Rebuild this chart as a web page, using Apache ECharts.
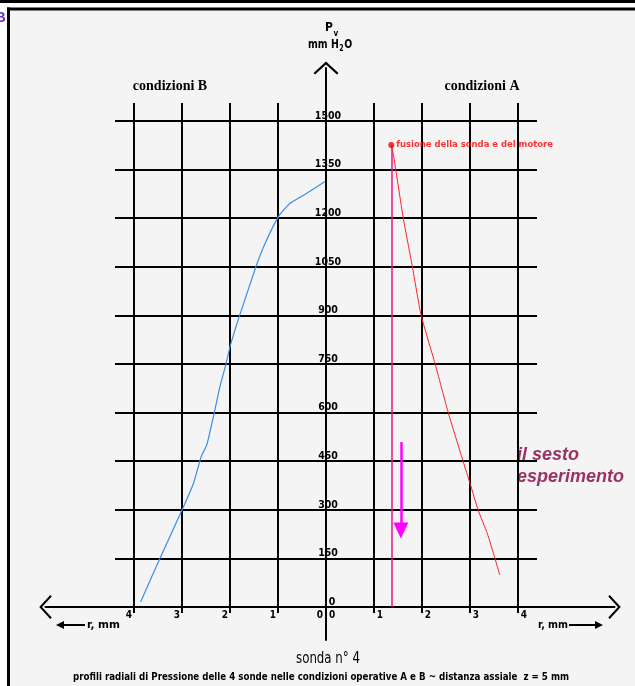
<!DOCTYPE html>
<html><head><meta charset="utf-8">
<script src="https://cdn.jsdelivr.net/npm/echarts@6/dist/echarts.min.js"></script>
<style>html,body{margin:0;padding:0;background:#fff}#c{width:635px;height:686px}</style>
</head><body><div id="c"></div>
<script>
// ---- data ----
const yTicks = [0,150,300,450,600,750,900,1050,1200,1350,1500];
const xTicks = [4,3,2,1,0,0,1,2,3,4];
// condizioni B (left side, r in mm measured leftwards)
const condB_r = [3.86,3.46,3.00,2.76,2.60,2.48,2.33,2.21,2.08,2.00,1.83,1.46,1.27,0.99,0.75,0.40,0.02];
const condB_P = [16,150,299,382,464,502,598,680,752,803,886,1050,1122,1205,1246,1277,1313];
// condizioni A (right side)
const condA_r = [1.36,1.40,1.61,1.80,1.98,2.27,2.55,2.86,3.00,3.17,3.36,3.52,3.62];
const condA_P = [1426,1400,1200,1050,901,752,598,448,382,299,227,150,99];
const fusionPoint = [1.36,1426];
const fusionLabel = 'fusione della sonda e del motore';
const arrowR = 1.56, arrowFromP = 509, arrowToP = 236;
const subtitle = 'profili radiali di Pressione delle 4 sonde nelle condizioni operative A e B ~ distanza assiale  z = 5 mm';

// ---- font helpers ----
const mctx = document.createElement('canvas').getContext('2d');
function tw(font, text){ mctx.font = font; return mctx.measureText(text).width; }
function hasFont(name){
  const t = 'abcdefghijklmnopqrstuvwxyz0123456789ABCDEFGH';
  return ['monospace','serif'].some(fb => Math.abs(tw('12px "'+name+'",'+fb, t) - tw('12px '+fb, t)) > 0.5);
}
const narrowName = ['Liberation Sans Narrow','DejaVu Sans Condensed','Liberation Sans'].find(hasFont) || 'sans-serif';
const NARROW = '"'+narrowName+'",sans-serif';

const chart = echarts.init(document.getElementById('c'), null, {renderer:'canvas'});
const pxPerUnitY = 486/1500;

// text that must fit a measured width from the picture
function fitText(text, font, cx, cy, targetW, align, color){
  const w = tw(font, text);
  return {type:'text', x:cx, y:cy, scaleX: targetW / w,
    style:{text:text, fill:color||'#000', font:font, align:align||'center', verticalAlign:'middle'}, silent:true};
}
// P_v and mm H2O
const unitFontBig = 'bold 12px '+NARROW, unitFontSm = 'bold 8px '+NARROW;
function unitPieces(){
  const parts = [['mm H',unitFontBig,0],['2',unitFontSm,4],['O',unitFontBig,0]];
  const total = parts.reduce((s,p)=>s+tw(p[1],p[0]),0) + 1;
  const s = 44/total;
  let x = 308; const els = [];
  parts.forEach(p=>{
    els.push({type:'text', x:x, y:45+p[2], scaleX:s, style:{text:p[0], font:p[1], fill:'#000', verticalAlign:'middle'}, silent:true});
    x += tw(p[1],p[0])*s + (p[0]==='2'?0.5:0.5);
  });
  els.push({type:'text', x:325, y:28, style:{text:'P', font:unitFontBig, fill:'#000', verticalAlign:'middle'}, silent:true});
  els.push({type:'text', x:325+tw(unitFontBig,'P')+0.5, y:34, style:{text:'v', font:unitFontSm, fill:'#000', verticalAlign:'middle'}, silent:true});
  return els;
}
const fusionFont = Math.min(12, 11*157/tw('bold 11px '+NARROW, fusionLabel));
const chevron = 'path://M12,0 L24,11 L22.5,12.5 L12,2.8 L1.5,12.5 L0,11 Z';

const option = {
  animation:false,
  backgroundColor:'#f4f4f4',
  grid:[
    {left:115, top:121, width:422, height:486},
    {left:134, top:103, width:384, height:504},
    {left:45.5, top:68, width:569, height:572}
  ],
  xAxis:[
    {gridIndex:0, type:'value', min:-4.4, max:4.4, show:false},
    {gridIndex:1, type:'value', min:-4, max:4, interval:1, position:'bottom',
      axisLine:{show:false},
      axisTick:{show:true, length:6, lineStyle:{color:'#000', width:2}},
      splitLine:{show:true, lineStyle:{color:'#000', width:2}},
      axisLabel:{show:true, margin:3, align:'center', color:'#000',
        fontFamily:NARROW, fontWeight:'bold', fontSize:10,
        formatter:function(v){
          if (v<0) return '{l|'+(-v)+'}';
          if (v>0) return '{r|'+v+'}';
          return '{a|'+xTicks[4]+'}{b|'+xTicks[5]+'}';
        },
        rich:{
          l:{padding:[0,10,0,0], fontFamily:NARROW, fontWeight:'bold', fontSize:10, color:'#000'},
          r:{padding:[0,0,0,12], fontFamily:NARROW, fontWeight:'bold', fontSize:10, color:'#000'},
          a:{padding:[0,3,0,0], fontFamily:NARROW, fontWeight:'bold', fontSize:10, color:'#000'},
          b:{padding:[0,0,0,3], fontFamily:NARROW, fontWeight:'bold', fontSize:10, color:'#000'}
        }
      }
    },
    {gridIndex:2, type:'value', min:-(326-45.5)/48, max:(614.5-326)/48,
      axisLine:{show:true, onZero:true, lineStyle:{color:'#000', width:2},
        symbol:[chevron, chevron], symbolSize:[24,13]},
      axisTick:{show:false}, axisLabel:{show:false}, splitLine:{show:false}}
  ],
  yAxis:[
    {gridIndex:0, type:'value', min:yTicks[0], max:yTicks[yTicks.length-1], interval:yTicks[1]-yTicks[0],
      position:'left', offset:-211,
      axisLine:{show:false}, axisTick:{show:false},
      splitLine:{show:true, lineStyle:{color:'#000', width:2}},
      axisLabel:{show:true, margin:-2, align:'center', verticalAlign:'bottom', lineHeight:10,
        color:'#000', fontFamily:NARROW, fontWeight:'bold', fontSize:10.5,
        formatter:function(v){ return v===0 ? '{z|0}' : String(v); },
        rich:{z:{padding:[0,0,0,8], fontFamily:NARROW, fontWeight:'bold', fontSize:10.5, color:'#000', lineHeight:10}}
      }
    },
    {gridIndex:1, type:'value', min:0, max:504/pxPerUnitY, show:false},
    {gridIndex:2, type:'value', min:-(640-607)/pxPerUnitY, max:(607-68)/pxPerUnitY,
      axisLine:{show:true, onZero:true, lineStyle:{color:'#000', width:2},
        symbol:['none', chevron], symbolSize:[26,13]},
      axisTick:{show:false}, axisLabel:{show:false}, splitLine:{show:false}}
  ],
  series:[
    {type:'line', xAxisIndex:1, yAxisIndex:1, smooth:0.15, showSymbol:false, silent:true,
      lineStyle:{color:'#3a8ee6', width:1.2},
      data:condB_r.map((r,i)=>[-r, condB_P[i]]), z:5},
    {type:'line', xAxisIndex:1, yAxisIndex:1, smooth:0.15, showSymbol:false, silent:true,
      lineStyle:{color:'#ff2020', width:1},
      data:condA_r.map((r,i)=>[r, condA_P[i]]), z:5},
    {type:'scatter', xAxisIndex:1, yAxisIndex:1, symbol:'circle', symbolSize:6, silent:true,
      itemStyle:{color:'#ff0000'}, z:6,
      label:{show:true, position:'right', distance:2, formatter:fusionLabel,
        color:'#ff0000', fontFamily:NARROW, fontWeight:'bold', fontSize:fusionFont},
      data:[fusionPoint],
      markLine:{silent:true, symbol:['none','none'], animation:false, label:{show:false},
        data:[
          [{coord:[fusionPoint[0], fusionPoint[1]], lineStyle:{color:'#f0148c', width:1.5, type:'solid'}},
           {coord:[fusionPoint[0], 0]}],
          [{coord:[arrowR, arrowFromP], symbol:'none', lineStyle:{color:'#ff00ff', width:2.5, type:'solid'}},
           {coord:[arrowR, arrowToP], symbol:'triangle', symbolSize:[15,16]}]
        ]}
    }
  ],
  graphic:[
    {type:'rect', shape:{x:0,y:0,width:635,height:8}, style:{fill:'#fff'}, silent:true},
    {type:'rect', shape:{x:0,y:0,width:7,height:686}, style:{fill:'#fff'}, silent:true},
    {type:'line', shape:{x1:0,y1:1.5,x2:635,y2:1.5}, style:{stroke:'#000', lineWidth:3}, silent:true},
    {type:'line', shape:{x1:7,y1:9,x2:635,y2:9}, style:{stroke:'#000', lineWidth:3}, silent:true},
    {type:'line', shape:{x1:8.5,y1:7.5,x2:8.5,y2:686}, style:{stroke:'#000', lineWidth:3}, silent:true},
    {type:'text', x:-5, y:18, style:{text:'B', fill:'#6633cc', font:'bold 15px "Liberation Sans",sans-serif', verticalAlign:'middle'}, silent:true},
    ...unitPieces(),
    {type:'text', x:170, y:86, style:{text:'condizioni B', fill:'#000', font:'bold 14px "Liberation Serif",serif', align:'center', verticalAlign:'middle'}, silent:true},
    {type:'text', x:482, y:86, style:{text:'condizioni A', fill:'#000', font:'bold 14px "Liberation Serif",serif', align:'center', verticalAlign:'middle'}, silent:true},
    {type:'text', x:517, y:444, style:{text:'il sesto\nesperimento', fill:'#993366', font:'italic bold 18px "Liberation Sans",Arial,sans-serif', lineHeight:22, verticalAlign:'top'}, silent:true},
    fitText('r, mm', 'bold 11px '+NARROW, 87, 625, 33, 'left'),
    {type:'line', shape:{x1:60,y1:625,x2:85,y2:625}, style:{stroke:'#000', lineWidth:2}, silent:true},
    {type:'polygon', shape:{points:[[56,625],[64,621],[64,629]]}, style:{fill:'#000'}, silent:true},
    fitText('r, mm', 'bold 11px '+NARROW, 538, 625, 30, 'left'),
    {type:'line', shape:{x1:569,y1:625,x2:598,y2:625}, style:{stroke:'#000', lineWidth:2}, silent:true},
    {type:'polygon', shape:{points:[[603,625],[595,621],[595,629]]}, style:{fill:'#000'}, silent:true},
    fitText('sonda n° 4', '15px '+NARROW, 328, 659, 64, 'center'),
    fitText(subtitle, 'bold 11px '+NARROW, 321, 677, 496, 'center')
  ]
};
chart.setOption(option);
</script>
</body></html>
